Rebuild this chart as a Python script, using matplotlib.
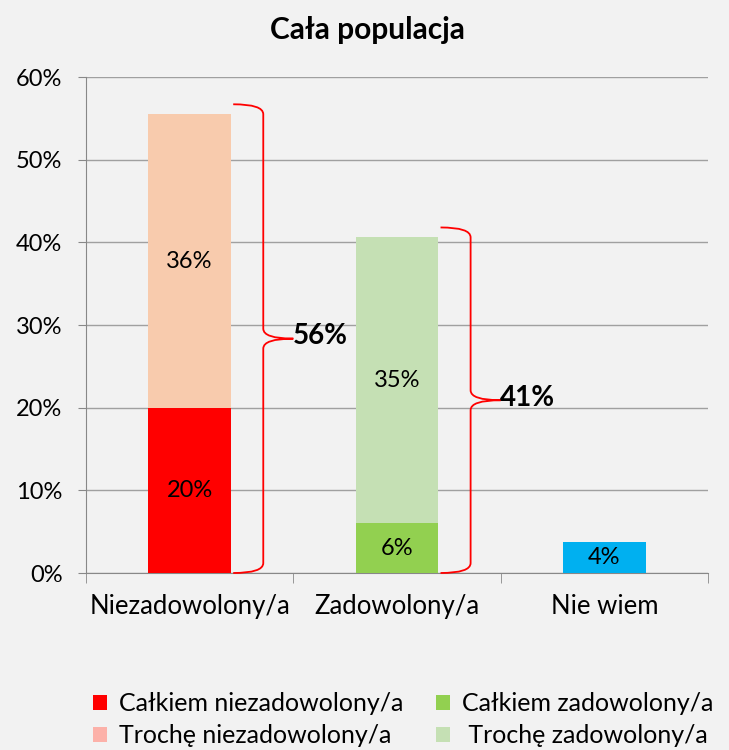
import matplotlib
matplotlib.use("Agg")
import matplotlib.pyplot as plt
from matplotlib.path import Path
from matplotlib.patches import PathPatch, Patch

categories = ["Niezadowolony/a", "Zadowolony/a", "Nie wiem"]
strong = [19.9, 6.0, 3.8]          # Całkiem ...
some = [35.6, 34.6, 0.0]           # Trochę ...
seg_labels_strong = ["20%", "6%", "4%"]
seg_labels_some = ["36%", "35%", ""]
totals_labels = ["56%", "41%"]
yticks = [0, 10, 20, 30, 40, 50, 60]
legend_labels = ["Całkiem niezadowolony/a", "Trochę niezadowolony/a",
                 "Całkiem zadowolony/a", " Trochę zadowolony/a"]

strong_colors = ["#ff0000", "#92d050", "#00b0f0"]
some_colors = ["#f8cbad", "#c5e0b4", "#c5e0b4"]
legend_colors = ["#ff0000", "#fcb1a9", "#92d050", "#c5e0b4"]
bg = "#f2f2f2"

plt.rcParams['font.family'] = ['Lato', 'DejaVu Sans']

fig = plt.figure(figsize=(7.29, 7.5), dpi=100, facecolor=bg)
ax = fig.add_axes([86/729, 1-573/750, (708-86)/729, (573-77)/750])
ax.set_facecolor(bg)

x = list(range(len(categories)))
w = 0.4
ax.bar(x, strong, width=w, color=strong_colors, zorder=3)
ax.bar(x, some, width=w, bottom=strong, color=some_colors, zorder=3)

for i in x:
    ax.text(i, strong[i]/2, seg_labels_strong[i],
            ha='center', va='center', fontsize=17, zorder=4)
    if some[i] > 0:
        ax.text(i, strong[i] + some[i]/2, seg_labels_some[i],
                ha='center', va='center', fontsize=17, zorder=4)

# braces
for i, lab in enumerate(totals_labels):
    total = strong[i] + some[i]
    top = total + 1.2
    mid = top / 2
    x0 = i + 0.21
    xv = i + 0.355
    xt = i + 0.50
    ry = 1.2
    verts = [(x0, top), (xv, top), (xv, top - ry),
             (xv, mid + ry), (xv, mid), (xt, mid),
             (xv, mid), (xv, mid - ry),
             (xv, ry), (xv, 0), (x0, 0)]
    codes = [Path.MOVETO, Path.CURVE3, Path.CURVE3,
             Path.LINETO, Path.CURVE3, Path.CURVE3,
             Path.CURVE3, Path.CURVE3,
             Path.LINETO, Path.CURVE3, Path.CURVE3]
    ax.add_patch(PathPatch(Path(verts, codes), fill=False, edgecolor='#ff0000',
                           lw=1.3, zorder=5, clip_on=False))
    ax.text(xt - 0.005, mid + 0.3, lab, ha='left', va='center', fontsize=20,
            fontweight='bold', zorder=6)

ax.set_xlim(-0.5, 2.5)
ax.set_ylim(0, 60)
ax.set_yticks(yticks)
ax.set_yticklabels([f"{v}%" for v in yticks], fontsize=17)
ax.set_xticks(x)
ax.set_xticklabels(categories, fontsize=18.5)
ax.tick_params(axis='x', length=0, pad=15)
ax.tick_params(axis='y', length=6, color='#888888', pad=11)
ax.set_xticks([-0.5, 0.5, 1.5, 2.5], minor=True)
ax.tick_params(axis='x', which='minor', length=7, color='#888888')
ax.grid(axis='y', color='#a0a0a0', lw=1, zorder=0)
for s in ['top', 'right']:
    ax.spines[s].set_visible(False)
ax.spines['left'].set_color('#888888')
ax.spines['bottom'].set_color('#888888')

fig.text(367/729, 1-30/750, "Cała populacja", fontsize=21.5, fontweight='bold',
         ha='center', va='center')

handles = [Patch(facecolor=c, edgecolor='none') for c in legend_colors]
fig.legend(handles, legend_labels, ncol=2, loc='upper left',
           bbox_to_anchor=(93/729, 1-692/750), frameon=False, fontsize=18,
           borderpad=0, borderaxespad=0,
           handlelength=0.55, handleheight=0.55, handletextpad=0.5,
           columnspacing=1.3, labelspacing=0.36)

fig.savefig("out.png", dpi=100, facecolor=bg)
